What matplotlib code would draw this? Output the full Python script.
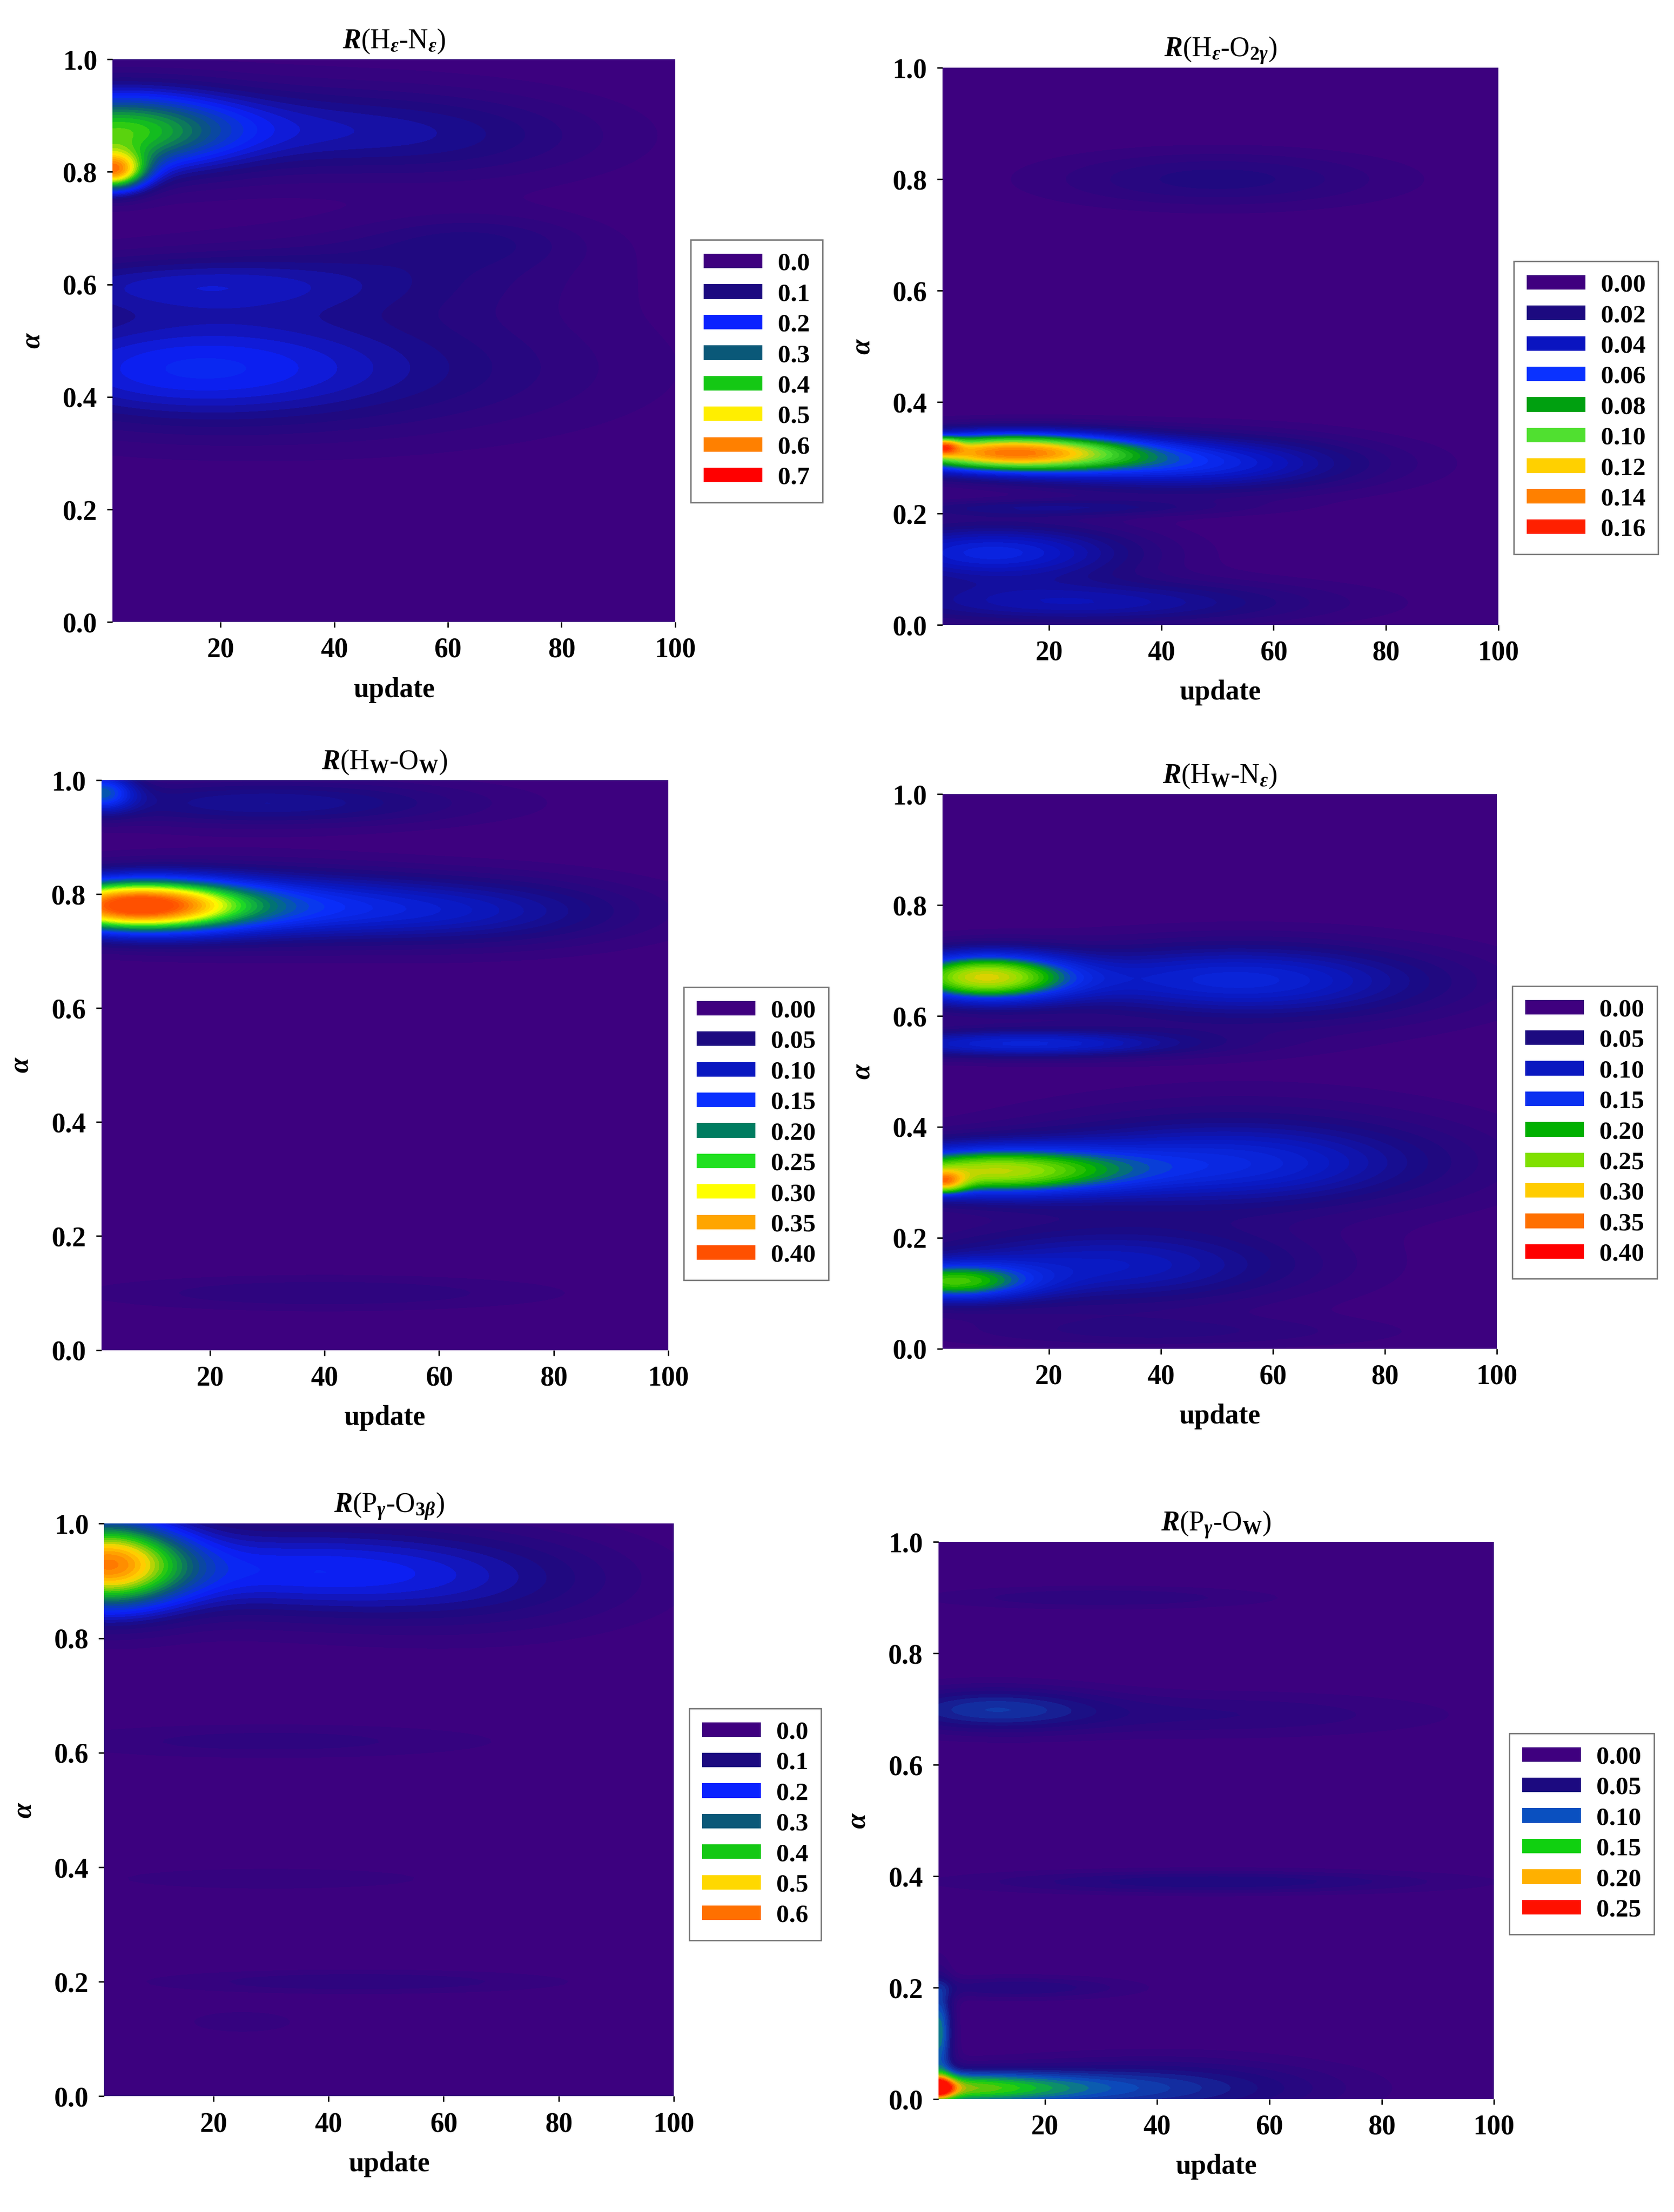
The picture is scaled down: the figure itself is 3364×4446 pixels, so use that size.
import numpy as np
import matplotlib
matplotlib.use("Agg")
import matplotlib.pyplot as plt
from matplotlib.colors import LinearSegmentedColormap
from matplotlib.patches import Patch

plt.rcParams['font.family'] = ['Liberation Serif', 'DejaVu Serif']
plt.rcParams['font.weight'] = 'bold'
plt.rcParams['mathtext.fontset'] = 'custom'
plt.rcParams['mathtext.rm'] = 'Liberation Serif:bold'
plt.rcParams['mathtext.it'] = 'Liberation Serif:bold:italic'

# panel titles
titles = [r'$\mathit{R}$(H$_\varepsilon$-N$_\varepsilon$)',
          r'$\mathit{R}$(H$_\varepsilon$-O$_{2\gamma}$)',
          r'$\mathit{R}$(H$_\mathrm{W}$-O$_\mathrm{W}$)',
          r'$\mathit{R}$(H$_\mathrm{W}$-N$_\varepsilon$)',
          r'$\mathit{R}$(P$_\gamma$-O$_{3\beta}$)',
          r'$\mathit{R}$(P$_\gamma$-O$_\mathrm{W}$)']

# legend levels per panel
levels_1 = [0.0, 0.1, 0.2, 0.3, 0.4, 0.5, 0.6, 0.7]
levels_2 = [0.00, 0.02, 0.04, 0.06, 0.08, 0.10, 0.12, 0.14, 0.16]
levels_3 = [0.00, 0.05, 0.10, 0.15, 0.20, 0.25, 0.30, 0.35, 0.40]
levels_4 = [0.00, 0.05, 0.10, 0.15, 0.20, 0.25, 0.30, 0.35, 0.40]
levels_5 = [0.0, 0.1, 0.2, 0.3, 0.4, 0.5, 0.6]
levels_6 = [0.00, 0.05, 0.10, 0.15, 0.20, 0.25]
fmt = ['%.1f', '%.2f', '%.2f', '%.2f', '%.1f', '%.2f']

colors_1 = ['#3f007f', '#1c0a80', '#0a22ff', '#0a5878', '#14c814', '#ffee00', '#ff8000', '#ff0000']
colors_2 = ['#3f007f', '#1c0a80', '#0a14c0', '#0a32ff', '#00a010', '#50e030', '#ffd000', '#ff8000', '#ff2000']
colors_3 = ['#3f007f', '#1c0a80', '#0a18c0', '#0a30ff', '#007c60', '#20e020', '#ffff00', '#ffa500', '#ff5000']
colors_4 = ['#3f007f', '#1c0a80', '#0a18c0', '#0a30f0', '#00b000', '#80e000', '#ffcc00', '#ff7000', '#ff0000']
colors_5 = ['#3f007f', '#1c0a80', '#0a22ff', '#0a5878', '#14c814', '#ffd800', '#ff7000']
colors_6 = ['#3f007f', '#1c0a80', '#0a50c0', '#10d010', '#ffb000', '#ff1000']

# intensity ridges: (alpha centre, height, alpha width, update centre, update width)
blobs_1 = [(0.80, 0.45, 0.035, 1, 6), (0.87, 0.30, 0.07, 1, 20), (0.88, 0.13, 0.08, 15, 45),
           (0.86, 0.07, 0.08, 60, 30), (0.45, 0.15, 0.10, 10, 35), (0.45, 0.09, 0.12, 45, 45),
           (0.60, 0.10, 0.05, 10, 35), (0.62, 0.06, 0.08, 45, 40), (0.68, 0.06, 0.05, 65, 20)]
blobs_2 = [(0.31, 0.13, 0.035, 12, 22), (0.32, 0.06, 0.015, 1, 3), (0.29, 0.05, 0.05, 45, 30),
           (0.13, 0.05, 0.05, 10, 25), (0.04, 0.035, 0.04, 25, 40), (0.80, 0.018, 0.05, 50, 30),
           (0.21, 0.02, 0.015, 20, 30)]
blobs_3 = [(0.78, 0.34, 0.045, 6, 18), (0.78, 0.13, 0.06, 25, 30), (0.77, 0.08, 0.06, 65, 30),
           (0.98, 0.15, 0.035, 1, 6), (0.96, 0.07, 0.04, 30, 35), (0.10, 0.03, 0.03, 40, 40)]
blobs_4 = [(0.67, 0.26, 0.045, 8, 16), (0.67, 0.08, 0.06, 50, 35), (0.55, 0.12, 0.025, 15, 30),
           (0.32, 0.24, 0.045, 8, 24), (0.30, 0.15, 0.02, 1, 4), (0.33, 0.08, 0.07, 50, 35),
           (0.12, 0.18, 0.035, 2, 15), (0.15, 0.10, 0.07, 30, 35), (0.03, 0.03, 0.03, 40, 40),
           (0.35, 0.05, 0.10, 55, 40), (0.65, 0.05, 0.08, 60, 35)]
blobs_5 = [(0.93, 0.50, 0.08, 1, 14), (0.92, 0.17, 0.08, 30, 35), (0.90, 0.09, 0.09, 65, 30),
           (0.62, 0.05, 0.03, 30, 40), (0.20, 0.06, 0.02, 45, 35), (0.38, 0.04, 0.02, 30, 30),
           (0.13, 0.04, 0.02, 25, 10)]
blobs_6 = [(0.02, 0.16, 0.03, 1, 25), (0.02, 0.07, 0.05, 40, 30), (0.12, 0.12, 0.09, 1, 2.5),
           (0.70, 0.07, 0.04, 10, 20), (0.69, 0.03, 0.04, 50, 40), (0.39, 0.05, 0.02, 50, 40),
           (0.20, 0.04, 0.02, 15, 20), (0.90, 0.03, 0.02, 30, 30), (0.02, 0.10, 0.02, 1, 3)]

all_levels = [levels_1, levels_2, levels_3, levels_4, levels_5, levels_6]
all_colors = [colors_1, colors_2, colors_3, colors_4, colors_5, colors_6]
all_blobs = [blobs_1, blobs_2, blobs_3, blobs_4, blobs_5, blobs_6]

# axes boxes in reference pixels (1190 x 1568 view): left, right, top, bottom; legend centre
W, H = 1190.0, 1568.0
boxes = [(80, 480, 42, 441), (670, 1065, 48, 443), (72, 475, 553, 957),
         (670, 1064, 563, 956), (74, 479, 1080, 1486), (667, 1062, 1093, 1488)]
leg_y = [0.446, 0.39, 0.38, 0.39, 0.475, 0.476]

update = np.linspace(1, 100, 200)
alpha = np.linspace(0, 1, 200)
U, A = np.meshgrid(update, alpha)

fig = plt.figure(figsize=(33.64, 44.46), dpi=100)
for i in range(6):
    l, r, t, b = boxes[i]
    ax = fig.add_axes([l / W, 1 - b / H, (r - l) / W, (b - t) / H])
    Z = np.zeros_like(U)
    for a0, amp, sa, u0, su in all_blobs[i]:
        Z += amp * np.exp(-((A - a0) / sa) ** 2) * np.exp(-((U - u0) / su) ** 2)
    lv = all_levels[i]
    step = lv[1] - lv[0]
    top = lv[-1] + step
    Z = np.clip(Z, 0, top * 0.999)
    cmap = LinearSegmentedColormap.from_list('c', all_colors[i] + [all_colors[i][-1]], N=256)
    ax.contourf(U, A, Z, levels=np.linspace(0, top, len(lv) * 5 + 1), cmap=cmap)
    ax.set_xlim(1, 100)
    ax.set_ylim(0, 1)
    ax.set_xticks([20, 40, 60, 80, 100])
    ax.set_yticks([0.0, 0.2, 0.4, 0.6, 0.8, 1.0])
    ax.set_yticklabels(['0.0', '0.2', '0.4', '0.6', '0.8', '1.0'])
    ax.tick_params(labelsize=40, length=8, width=2, pad=14)
    for s in ax.spines.values():
        s.set_visible(False)
    ax.set_xlabel('update', fontsize=40, fontweight='bold', labelpad=20)
    ax.set_ylabel(r'$\alpha$', fontsize=40, labelpad=25)
    ax.set_title(titles[i], fontsize=40, pad=16)
    handles = [Patch(facecolor=c, edgecolor='none') for c in all_colors[i]]
    labels = [fmt[i] % v for v in lv]
    leg = ax.legend(handles, labels, loc='center left', bbox_to_anchor=(1.005, leg_y[i]),
                    fontsize=37, frameon=True, fancybox=False, edgecolor='#555555',
                    handlelength=2.3, handleheight=0.5, labelspacing=0.3, borderpad=0.5,
                    handletextpad=0.6)
    leg.get_frame().set_linewidth(2)

fig.savefig('out.png', dpi=100)
